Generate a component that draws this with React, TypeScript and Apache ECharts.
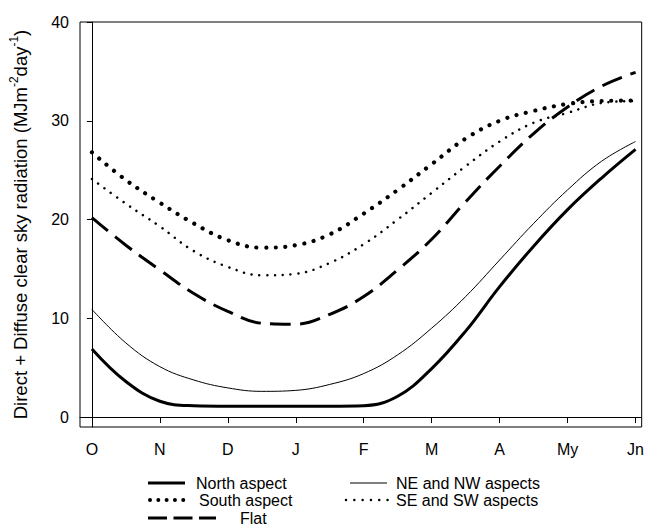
import React, { useEffect, useRef } from "react";
import * as echarts from "echarts";

const monthLabels = ["O", "N", "D", "J", "F", "M", "A", "My", "Jn"];
const monthTicks = [0, 1, 2, 3, 4, 5, 6, 7, 8];
const yTicks = [0, 10, 20, 30, 40];

const xs = [0, 0.5, 1, 1.5, 2, 2.5, 3, 3.5, 4, 4.5, 5, 5.5, 6, 6.5, 7, 7.5, 8];
const north = [6.9, 3.6, 1.6, 1.15, 1.1, 1.1, 1.1, 1.1, 1.15, 2.1, 4.9, 8.7, 13.2, 17.3, 21.0, 24.2, 27.1];
const neNw = [10.9, 7.5, 5.1, 3.75, 2.95, 2.6, 2.7, 3.3, 4.4, 6.3, 9.0, 12.2, 15.9, 19.6, 23.0, 25.9, 27.9];
const flat = [20.2, 17.4, 14.9, 12.5, 10.7, 9.5, 9.4, 10.4, 12.2, 14.9, 18.0, 21.8, 25.4, 28.7, 31.4, 33.5, 34.9];
const south = [26.8, 24.0, 21.7, 19.6, 17.9, 17.15, 17.4, 18.5, 20.6, 23.0, 25.6, 28.2, 30.0, 31.0, 31.7, 32.0, 32.05];
const seSw = [24.1, 21.6, 19.3, 16.8, 15.2, 14.35, 14.5, 15.6, 17.5, 20.0, 22.7, 25.4, 27.9, 29.8, 30.8, 31.8, 32.0];

const FONT = "'Liberation Sans', Arial, sans-serif";

const pairs = (vals: number[]) => xs.map((x, i) => [x, vals[i]]);

export default function App() {
  const ref = useRef<HTMLDivElement>(null);
  useEffect(() => {
    if (!ref.current) return;
    const chart = echarts.init(ref.current, undefined, { renderer: "svg" });
    const mkSeries = (name: string, vals: number[], lineStyle: any) => ({
      name,
      type: "line",
      data: pairs(vals),
      smooth: 0.4,
      showSymbol: false,
      symbol: "none",
      lineStyle: { color: "#000", ...lineStyle },
      z: 3,
    });
    const legendText = (x: number, y: number, text: string) => ({
      type: "text",
      x,
      y,
      style: { text, fill: "#000", font: `16px ${FONT}`, verticalAlign: "middle" },
    });
    const legendLine = (x1: number, x2: number, y: number, style: any) => ({
      type: "line",
      shape: { x1, y1: y, x2, y2: y },
      style: { stroke: "#000", ...style },
    });
    chart.setOption({
      animation: false,
      backgroundColor: "#fff",
      grid: { left: 79, right: 2, top: 22, bottom: 101, show: true, borderColor: "#000", borderWidth: 1 },
      xAxis: {
        type: "value",
        min: -0.175,
        max: 8.09,
        splitLine: { show: false },
        axisLine: { show: true, lineStyle: { color: "#000", width: 1 } },
        axisTick: { show: true, customValues: monthTicks, length: 6, lineStyle: { color: "#000" } },
        axisLabel: {
          customValues: monthTicks,
          formatter: (v: number) => monthLabels[Math.round(v)] ?? "",
          color: "#000",
          fontSize: 16,
          fontFamily: FONT,
          margin: 14,
        },
      },
      yAxis: {
        type: "value",
        min: -1.01,
        max: 40,
        splitLine: { show: false },
        axisLine: { show: true, lineStyle: { color: "#000", width: 1 } },
        axisTick: { show: true, customValues: yTicks, length: 5, lineStyle: { color: "#000" } },
        axisLabel: { customValues: yTicks, color: "#000", fontSize: 16, fontFamily: FONT, margin: 11 },
        name: "{a|Direct + Diffuse clear sky radiation (MJm}{s|-2}{a|day}{s|-1}{a|)}",
        nameLocation: "middle",
        nameRotate: 90,
        nameGap: 50,
        nameTextStyle: {
          rich: {
            a: { fontSize: 18.5, fontFamily: FONT, color: "#000", verticalAlign: "bottom", lineHeight: 22 },
            s: { fontSize: 12, fontFamily: FONT, color: "#000", verticalAlign: "top", lineHeight: 22 },
          },
        },
      },
      series: [
        mkSeries("North aspect", north, { width: 3, type: "solid" }),
        mkSeries("NE and NW aspects", neNw, { width: 1, type: "solid" }),
        mkSeries("Flat", flat, { width: 3, type: [21, 9] }),
        mkSeries("South aspect", south, { width: 4.2, type: [0.01, 9.6], cap: "round" }),
        mkSeries("SE and SW aspects", seSw, { width: 2.5, type: [0.01, 7.8], cap: "round" }),
      ],
      graphic: [
        legendLine(148, 185, 483, { lineWidth: 3 }),
        legendText(196, 483, "North aspect"),
        legendLine(150, 184, 500, { lineWidth: 4, lineDash: [0.01, 8.3], lineCap: "round" }),
        legendText(199, 500, "South aspect"),
        legendLine(148, 216, 518, { lineWidth: 3, lineDash: [19, 6.5] }),
        legendText(240, 518, "Flat"),
        legendLine(350, 387, 483, { lineWidth: 1 }),
        legendText(396, 483, "NE and NW aspects"),
        legendLine(346, 388, 500, { lineWidth: 2.5, lineDash: [0.01, 8.3], lineCap: "round" }),
        legendText(396, 500, "SE and SW aspects"),
      ],
    });
    return () => chart.dispose();
  }, []);
  return <div ref={ref} style={{ position: "absolute", left: 0, top: 0, width: 647, height: 528 }} />;
}
